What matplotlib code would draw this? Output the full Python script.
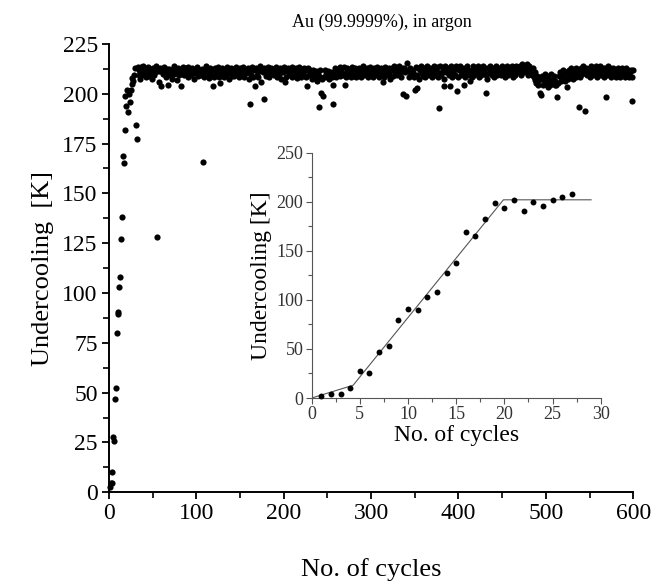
import numpy as np
import matplotlib.pyplot as plt
from matplotlib.ticker import MultipleLocator

plt.rcParams['font.family'] = ['Liberation Serif', 'DejaVu Serif']

# first cycles (also shown in the inset)
early_cycles = list(range(1, 28))
early_undercool = [2.5, 4.5, 4.5, 10, 27.5, 25.5, 47, 52.5, 80, 90.5, 89.5, 103, 108,
                   127, 138, 169, 165, 182, 199, 194, 202, 191, 200, 196, 202, 205, 208]

# piecewise fit drawn in the inset
fit_x = [0, 4.3, 19.9, 29]
fit_y = [0, 13, 202, 202]

# cycles 28 .. 600, band level
late_undercool = [
    206.5, 209.2, 212.8, 210.4, 211.7, 213.6, 209.3, 212.1, 207.4, 213.2, 210.8, 213.9, 209.6, 212.5, 208.3, 211.9, 210.2, 213.4, 209.1, 212.3,
    210.7, 207.6, 212.9, 211.5, 209.4, 210.9, 213.7, 207.8, 211.6, 210.3, 211.2, 212.7, 208.4, 211.8, 209.7, 213.5, 210.6, 208.2, 212.4, 209.9,
    211.1, 212.6, 209.5, 211.9, 207.3, 210.8, 213.8, 209.8, 212.2, 210.5, 206.8, 212.9, 209.2, 211.7, 210.9, 208.1, 212.3, 213.6, 209.4, 211.3,
    212.7, 210.1, 213.4, 208.6, 211.2, 211.8, 209.3, 212.8, 210.7, 207.5, 211.6, 210.2, 211.4, 213.5, 208.7, 211.9, 210.8, 209.2, 212.6, 210.9,
    212.1, 208.4, 211.3, 213.7, 209.8, 211.7, 210.6, 207.7, 212.9, 209.3, 211.8, 210.7, 208.5, 212.8, 211.1, 209.9, 212.4, 213.6, 208.3, 211.2,
    210.4, 211.9, 212.7, 210.8, 208.6, 211.6, 209.4, 213.5, 210.9, 207.4, 211.8, 210.6, 212.9, 209.1, 212.2, 208.7, 211.3, 213.4, 209.8, 212.1,
    210.7, 208.3, 212.8, 211.6, 209.2, 210.9, 213.6, 208.4, 211.7, 210.2, 211.1, 212.9, 207.6, 211.8, 210.8, 209.3, 213.5, 208.6, 211.9, 210.6,
    212.7, 209.4, 211.8, 208.2, 211.2, 213.7, 209.9, 212.3, 210.7, 207.8, 212.8, 211.6, 209.1, 210.9, 213.4, 208.5, 211.7, 210.3, 212.9, 210.8,
    212.2, 209.3, 210.8, 213.6, 208.4, 211.9, 210.6, 209.2, 212.7, 207.5, 211.8, 210.9, 213.5, 209.7, 212.1, 208.3, 211.2, 212.8, 209.4, 211.7,
    210.8, 213.4, 208.6, 211.9, 209.8, 210.7, 212.9, 207.7, 211.6, 209.3, 213.6, 210.8, 208.2, 212.2, 210.9, 212.7, 209.1, 211.8, 208.4, 211.1,
    212.8, 209.2, 211.7, 210.6, 207.3, 211.9, 209.4, 210.8, 208.1, 211.6, 206.4, 209.8, 210.7, 208.3, 211.8, 209.2, 207.4, 210.9, 208.6, 211.7,
    209.8, 210.9, 208.2, 211.6, 207.5, 209.7, 210.8, 208.4, 212.6, 209.9, 210.7, 212.8, 208.3, 211.9, 209.6, 210.8, 213.5, 208.7, 211.8, 210.6,
    209.4, 213.6, 211.7, 208.5, 210.9, 212.8, 209.3, 211.9, 210.7, 208.2, 213.4, 211.8, 209.1, 210.8, 212.9, 208.4, 211.6, 209.9, 212.7, 210.9,
    211.8, 208.3, 210.9, 213.7, 209.4, 211.6, 210.8, 212.9, 208.6, 211.9, 209.7, 213.5, 210.6, 211.8, 208.2, 212.8, 210.9, 209.3, 211.7, 213.6,
    210.8, 208.4, 211.9, 212.7, 209.2, 210.9, 211.8, 208.3, 213.6, 210.7, 211.9, 209.4, 212.8, 210.6, 207.4, 211.8, 212.9, 209.1, 213.7, 211.6,
    210.9, 212.7, 209.3, 211.8, 213.8, 210.7, 208.4, 212.9, 211.6, 209.2, 212.8, 210.9, 213.9, 215.5, 211.7, 208.3, 210.8, 212.7, 209.4, 211.9,
    210.7, 208.2, 211.8, 213.6, 209.3, 210.9, 212.8, 207.6, 211.7, 213.8, 210.6, 209.1, 212.9, 211.8, 208.4, 210.9, 213.7, 211.6, 209.2, 212.8,
    210.9, 211.8, 208.3, 212.7, 213.9, 209.4, 211.7, 210.8, 213.6, 208.2, 211.9, 213.8, 209.3, 210.7, 212.9, 211.6, 207.4, 213.7, 210.9, 211.8,
    212.7, 209.2, 211.6, 213.9, 210.8, 208.4, 212.9, 211.7, 209.3, 213.8, 210.6, 212.8, 208.3, 211.9, 213.7, 209.4, 212.7, 210.9, 211.8, 208.2,
    212.9, 210.8, 213.9, 211.7, 209.2, 212.8, 210.6, 208.4, 211.9, 213.8, 209.3, 212.7, 210.9, 211.6, 213.7, 208.3, 212.8, 210.7, 209.4, 211.9,
    213.8, 210.9, 212.7, 209.2, 211.8, 207.5, 212.9, 210.6, 213.9, 211.7, 209.3, 212.8, 210.8, 208.2, 211.9, 213.7, 209.4, 212.6, 210.9, 211.8,
    212.7, 209.3, 213.8, 210.8, 211.9, 208.4, 212.8, 210.7, 213.9, 209.2, 211.6, 212.9, 210.8, 213.7, 208.3, 211.8, 212.7, 209.4, 213.8, 211.7,
    210.9, 212.8, 213.9, 209.3, 211.7, 214.8, 212.9, 210.8, 213.8, 211.6, 214.9, 209.4, 212.7, 213.9, 210.8, 211.9, 209.2, 212.8, 208.4, 210.7,
    206.8, 205.2, 208.7, 204.3, 206.9, 203.4, 207.8, 205.4, 208.9, 204.2, 206.7, 209.8, 205.3, 207.9, 203.6, 208.8, 206.2, 204.4, 209.7, 206.8,
    205.4, 208.9, 206.3, 204.6, 209.8, 207.2, 205.3, 208.7, 210.9, 206.4, 209.8, 207.7, 211.8, 208.3, 206.2, 210.8, 209.6, 207.4, 211.9, 208.8,
    210.7, 212.8, 209.3, 207.4, 211.8, 210.9, 208.2, 212.9, 209.8, 211.7, 210.6, 208.4, 212.8, 209.9, 211.7, 213.8, 210.8, 208.3, 212.7, 209.6,
    211.8, 210.9, 212.7, 208.4, 213.8, 211.6, 209.3, 212.9, 210.8, 213.9, 211.7, 208.2, 212.8, 210.6, 213.7, 209.4, 211.9, 212.8, 210.7, 208.3,
    212.9, 211.8, 209.2, 213.7, 210.8, 212.7, 208.4, 211.9, 210.6, 212.8, 209.3, 211.7, 208.2, 210.9, 212.8, 209.7, 211.8, 208.3, 210.9, 212.7,
    209.4, 211.8, 208.2, 210.9, 212.7, 209.3, 211.9, 208.4, 210.8, 211.7, 209.6, 208.3, 211.8,
]

# cycles that fell out of the band
outlier_cycles = [31, 32, 55, 57, 60, 68, 83, 108, 119, 127, 161, 167, 174, 177, 201, 227,
                  240, 243, 245, 256, 257, 270, 314, 337, 340, 350, 353, 378, 383, 390,
                  398, 406, 413, 432, 493, 495, 512, 513, 524, 538, 545, 569, 598]
outlier_undercool = [184.5, 177.5, 128, 206, 204, 204.5, 204, 166, 204, 205.5, 195, 204, 206, 197.5,
                     206, 204, 193.5, 200.5, 199, 195, 204.5, 204.5, 206, 200, 199, 202, 203,
                     193, 204, 204, 201.5, 204.5, 206.5, 200.5, 200.5, 199.5, 204.5, 198.5, 203.5,
                     193.5, 191.5, 198.5, 196.5]

late_y = np.array(late_undercool, dtype=float)
late_x = np.arange(28, 28 + len(late_y))
for c, v in zip(outlier_cycles, outlier_undercool):
    late_y[c - 28] = v

all_x = np.concatenate([early_cycles, late_x])
all_y = np.concatenate([early_undercool, late_y])

fig = plt.figure(figsize=(6.68, 5.86), dpi=100)
ax = fig.add_axes([0.163, 0.160, 0.785, 0.765])

ax.scatter(all_x, all_y, s=20, color='black', linewidths=0, clip_on=False, zorder=3)
ax.set_xlim(0, 600)
ax.set_ylim(0, 225)
ax.xaxis.set_major_locator(MultipleLocator(100))
ax.xaxis.set_minor_locator(MultipleLocator(50))
ax.yaxis.set_major_locator(MultipleLocator(25))
ax.yaxis.set_minor_locator(MultipleLocator(12.5))
for side in ['top', 'right']:
    ax.spines[side].set_visible(False)
for side in ['left', 'bottom']:
    ax.spines[side].set_linewidth(1.4)
ax.tick_params(which='major', direction='out', length=5, width=1.3, labelsize=17, pad=3)
ax.tick_params(which='minor', direction='out', length=4, width=1.2)
ax.set_xlabel('No. of cycles', fontsize=19, labelpad=24)
ax.set_ylabel('Undercooling  [K]', fontsize=19, labelpad=6)
ax.set_title('Au (99.9999%), in argon', fontsize=13, pad=12, x=0.52)

# inset with the first cycles
gray = '#555555'
ins = fig.add_axes([0.4666, 0.3208, 0.4327, 0.4186])
ins.scatter(early_cycles, early_undercool, s=18, color='black', linewidths=0, zorder=3, clip_on=False)
ins.plot(fit_x, fit_y, color=gray, lw=0.8)
ins.set_xlim(0, 30)
ins.set_ylim(0, 250)
ins.xaxis.set_major_locator(MultipleLocator(5))
ins.xaxis.set_minor_locator(MultipleLocator(2.5))
ins.yaxis.set_major_locator(MultipleLocator(50))
ins.yaxis.set_minor_locator(MultipleLocator(25))
for side in ['top', 'right']:
    ins.spines[side].set_visible(False)
for side in ['left', 'bottom']:
    ins.spines[side].set_linewidth(0.8)
    ins.spines[side].set_color(gray)
ins.tick_params(which='major', direction='out', length=4, width=0.8, color=gray,
                labelcolor='#333333', labelsize=13, pad=2)
ins.tick_params(which='minor', direction='out', length=3, width=0.8, color=gray)
ins.set_xlabel('No. of cycles', fontsize=17, labelpad=1)
ins.set_ylabel('Undercooling [K]', fontsize=17, labelpad=3)

plt.savefig('out.png', dpi=100)
